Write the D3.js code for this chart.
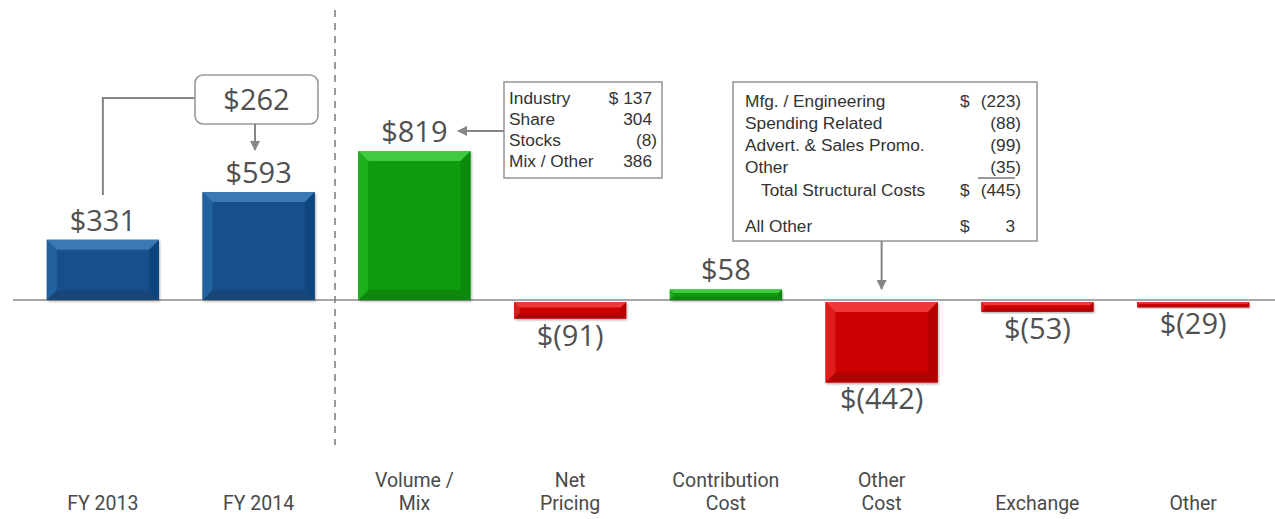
<!DOCTYPE html>
<html>
<head>
    <meta charset="utf-8"/>
    <title>Walk FY 2013 to FY 2014</title>
    <style>
        body {
            margin: 0;
            background: #ffffff;
        }
        svg {
            display: block;
        }
        .value-label {
            font-family: 'Open Sans', 'Noto Sans', sans-serif;
            font-size: 29px;
            fill: #505050;
            text-anchor: middle;
        }
        .cat-label {
            font-family: Roboto, 'Open Sans', sans-serif;
            font-size: 19.5px;
            fill: #4a4a4a;
            text-anchor: middle;
        }
        .box-text {
            font-family: 'Liberation Sans', Arial, sans-serif;
            font-size: 17.3px;
            fill: #333;
        }
        .callout {
            fill: #fff;
            stroke: #9a9a9a;
            stroke-width: 1.6px;
        }
        .connector {
            fill: none;
            stroke: #858585;
            stroke-width: 2px;
        }
    </style>
    <script src="https://cdnjs.cloudflare.com/ajax/libs/d3/7.8.5/d3.min.js"></script>
</head>
<body>
<svg id="viz" width="1275" height="519"></svg>
<script>
// chart data
const categories = ['FY 2013', 'FY 2014', 'Volume / Mix', 'Net Pricing', 'Contribution Cost', 'Other Cost', 'Exchange', 'Other'];
const categoryLines = [['FY 2013'], ['FY 2014'], ['Volume /', 'Mix'], ['Net', 'Pricing'], ['Contribution', 'Cost'], ['Other', 'Cost'], ['Exchange'], ['Other']];
const values = [331, 593, 819, -91, 58, -442, -53, -29];
const kinds = ['total', 'total', 'up', 'down', 'up', 'down', 'down', 'down'];

const changeLabel = '$262';
const volumeItems = ['Industry', 'Share', 'Stocks', 'Mix / Other'];
const volumeAmounts = ['$ 137', '304', '(8)', '386'];
const costItems = ['Mfg. / Engineering', 'Spending Related', 'Advert. & Sales Promo.', 'Other', 'Total Structural Costs', 'All Other'];
const costSigns = ['$', '', '', '', '$', '$'];
const costAmounts = ['(223)', '(88)', '(99)', '(35)', '(445)', '3'];

const svg = d3.select('svg'),
    width = +svg.attr('width'),
    height = +svg.attr('height');

const palette = {
    total: {body: '#18508c', top: '#3a78b6', left: '#23609e', right: '#11457c', bottom: '#134778'},
    up:    {body: '#0a9c0a', top: '#3fca3f', left: '#1db01d', right: '#078a07', bottom: '#088808'},
    down:  {body: '#cc0404', top: '#f03838', left: '#dd1c1c', right: '#b30202', bottom: '#b00404'}
};

const x = d3.scaleBand()
    .domain(categories)
    .range([25, 1271])
    .paddingInner(0.28)
    .paddingOuter(0.14);

const y = d3.scaleLinear()
    .domain([0, 819])
    .range([300, 151]);

const fmt = v => v < 0 ? `$(${-v})` : `$${v}`;

// defs: arrow head + shadow
const defs = svg.append('defs');
defs.append('marker')
    .attr('id', 'arrow')
    .attr('viewBox', '0 0 10 10')
    .attr('refX', 9).attr('refY', 5)
    .attr('markerWidth', 5).attr('markerHeight', 5)
    .attr('orient', 'auto')
    .append('path')
    .attr('d', 'M0,0 L10,5 L0,10 Z')
    .attr('fill', '#858585');

const shadow = defs.append('filter').attr('id', 'shadow')
    .attr('x', '-10%').attr('y', '-10%').attr('width', '120%').attr('height', '130%');
shadow.append('feDropShadow')
    .attr('dx', 1).attr('dy', 1.5).attr('stdDeviation', 1.2)
    .attr('flood-color', '#000').attr('flood-opacity', 0.3);

// separator between totals and the walk
svg.append('line')
    .attr('x1', 335).attr('x2', 335)
    .attr('y1', 10).attr('y2', 445)
    .attr('stroke', '#999')
    .attr('stroke-width', 2)
    .attr('stroke-dasharray', '7,6');

// baseline
svg.append('line')
    .attr('x1', 13).attr('x2', width)
    .attr('y1', y(0)).attr('y2', y(0))
    .attr('stroke', '#8a8a8a')
    .attr('stroke-width', 1.5);

// bars with a bevelled look
const bars = svg.selectAll('.bar')
    .data(categories.map((c, i) => ({cat: c, value: values[i], kind: kinds[i]})))
    .enter().append('g')
    .attr('class', 'bar')
    .attr('filter', 'url(#shadow)');

bars.each(function(d) {
    const g = d3.select(this);
    const c = palette[d.kind];
    const bx = x(d.cat), w = x.bandwidth();
    const top = d.value >= 0 ? y(d.value) : y(0) + 2;
    const h = Math.abs(y(d.value) - y(0));
    const b = Math.min(10, h / 3);
    g.append('rect')
        .attr('x', bx).attr('y', top).attr('width', w).attr('height', h)
        .attr('fill', c.body);
    const pts = [
        [[bx, top + h], [bx + w, top + h], [bx + w - b, top + h - b], [bx + b, top + h - b], c.bottom],
        [[bx, top], [bx + b, top + b], [bx + b, top + h - b], [bx, top + h], c.left],
        [[bx + w, top], [bx + w - b, top + b], [bx + w - b, top + h - b], [bx + w, top + h], c.right],
        [[bx, top], [bx + w, top], [bx + w - b, top + b], [bx + b, top + b], c.top]
    ];
    pts.forEach(p => {
        g.append('polygon')
            .attr('points', p.slice(0, 4).map(q => q.join(',')).join(' '))
            .attr('fill', p[4]);
    });
});

// value labels
svg.selectAll('.value-label')
    .data(categories)
    .enter().append('text')
    .attr('class', 'value-label')
    .attr('x', d => x(d) + x.bandwidth() / 2)
    .attr('y', (d, i) => values[i] >= 0 ? y(values[i]) - 9 : y(values[i]) + 29)
    .text((d, i) => fmt(values[i]));

// category labels, one text per line
categories.forEach((c, i) => {
    const lines = categoryLines[i];
    lines.forEach((t, j) => {
        svg.append('text')
            .attr('class', 'cat-label')
            .attr('x', x(c) + x.bandwidth() / 2)
            .attr('y', 510 - (lines.length - 1 - j) * 23)
            .text(t);
    });
});

const cx = i => x(categories[i]) + x.bandwidth() / 2;

// $262 change callout
svg.append('path')
    .attr('class', 'connector')
    .attr('d', `M${cx(0)},195 V98 H195`);
svg.append('rect')
    .attr('class', 'callout')
    .attr('x', 195).attr('y', 75)
    .attr('width', 123).attr('height', 49)
    .attr('rx', 8);
svg.append('text')
    .attr('class', 'value-label')
    .attr('x', 256.5).attr('y', 110)
    .text(changeLabel);
svg.append('line')
    .attr('class', 'connector')
    .attr('x1', 255).attr('x2', 255)
    .attr('y1', 124).attr('y2', 150)
    .attr('marker-end', 'url(#arrow)');

// volume / mix breakdown
svg.append('rect')
    .attr('class', 'callout')
    .attr('x', 504).attr('y', 82)
    .attr('width', 158).attr('height', 96);
svg.append('line')
    .attr('class', 'connector')
    .attr('x1', 504).attr('x2', 458)
    .attr('y1', 131).attr('y2', 131)
    .attr('marker-end', 'url(#arrow)');
volumeItems.forEach((t, i) => {
    svg.append('text').attr('class', 'box-text')
        .attr('x', 509).attr('y', 104 + i * 21).text(t);
    const hang = volumeAmounts[i].endsWith(')') ? 0 : 5;
    svg.append('text').attr('class', 'box-text')
        .attr('x', 657 - hang).attr('y', 104 + i * 21)
        .attr('text-anchor', 'end').text(volumeAmounts[i]);
});

// other cost breakdown
svg.append('rect')
    .attr('class', 'callout')
    .attr('x', 733).attr('y', 82)
    .attr('width', 304).attr('height', 159);
svg.append('line')
    .attr('class', 'connector')
    .attr('x1', cx(5)).attr('x2', cx(5))
    .attr('y1', 241).attr('y2', 289)
    .attr('marker-end', 'url(#arrow)');
const costY = [107, 129, 151, 173, 196, 232];
costItems.forEach((t, i) => {
    svg.append('text').attr('class', 'box-text')
        .attr('x', i === 4 ? 761 : 745).attr('y', costY[i]).text(t);
    svg.append('text').attr('class', 'box-text')
        .attr('x', 960).attr('y', costY[i]).text(costSigns[i]);
    const hang = costAmounts[i].endsWith(')') ? 0 : 6;
    svg.append('text').attr('class', 'box-text')
        .attr('x', 1021 - hang).attr('y', costY[i])
        .attr('text-anchor', 'end').text(costAmounts[i]);
});
svg.append('line')
    .attr('x1', 978).attr('x2', 1015)
    .attr('y1', 178).attr('y2', 178)
    .attr('stroke', '#333').attr('stroke-width', 1);
</script>
</body>
</html>
